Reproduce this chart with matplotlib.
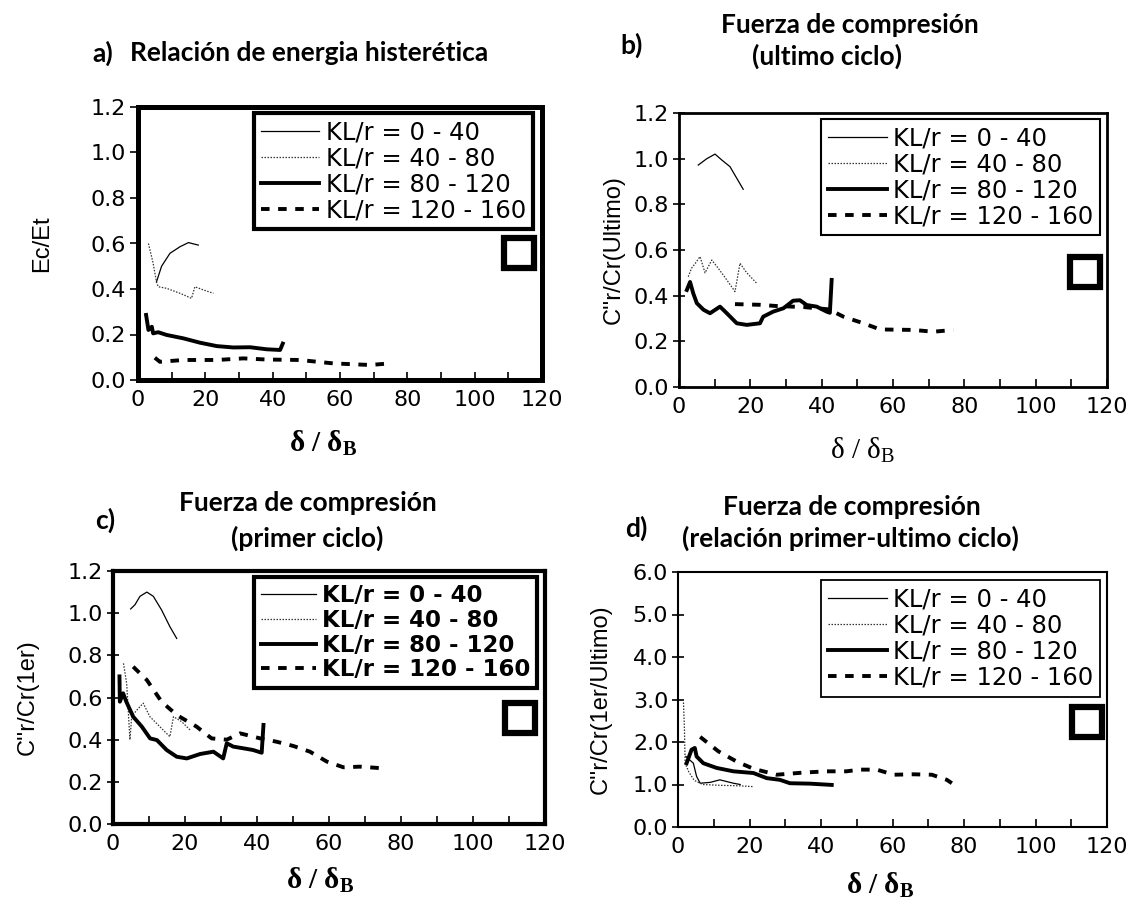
import matplotlib
matplotlib.use("Agg")
import matplotlib.pyplot as plt
from matplotlib.lines import Line2D
from matplotlib.ticker import MultipleLocator, FormatStrFormatter

# ---------------- data ----------------
legend_labels = ["KL/r = 0 - 40", "KL/r = 40 - 80", "KL/r = 80 - 120", "KL/r = 120 - 160"]

# Panel a: Ec/Et
a_s1_x = [5.5, 7.0, 9.5, 12.5, 15.0, 17.9]
a_s1_y = [0.432, 0.50, 0.557, 0.586, 0.604, 0.593]
a_s2_x = [3.1, 4.5, 5.5, 6.0, 8.5, 12.5, 15.9, 16.9, 19.4, 22.4]
a_s2_y = [0.60, 0.513, 0.43, 0.41, 0.403, 0.381, 0.359, 0.41, 0.396, 0.381]
a_s3_x = [2.4, 3.1, 4.1, 4.5, 6.0, 8.5, 13.5, 18.4, 23.4, 28.3, 33.3, 38.2, 42.2, 43.0]
a_s3_y = [0.286, 0.22, 0.234, 0.205, 0.21, 0.198, 0.183, 0.164, 0.149, 0.143, 0.144, 0.135, 0.132, 0.16]
a_s4_x = [5.0, 6.5, 13.5, 23.4, 31.3, 38.2, 48.0, 58.0, 68.9, 74.8]
a_s4_y = [0.098, 0.08, 0.088, 0.088, 0.095, 0.09, 0.088, 0.073, 0.066, 0.073]

# Panel b: C''r/Cr(Ultimo)
b_s1_x = [5.4, 7.8, 10.1, 12.0, 14.3, 16.2, 18.0]
b_s1_y = [0.972, 1.00, 1.02, 0.994, 0.965, 0.914, 0.866]
b_s2_x = [2.6, 3.5, 4.5, 5.9, 7.3, 9.2, 11.0, 13.4, 15.7, 17.1, 19.0, 21.8]
b_s2_y = [0.483, 0.52, 0.54, 0.571, 0.50, 0.556, 0.52, 0.469, 0.418, 0.542, 0.50, 0.454]
b_s3_x = [2.2, 3.1, 4.0, 5.0, 6.9, 8.7, 11.5, 13.4, 16.2, 19.0, 22.7, 23.6, 26.4, 29.3, 32.0, 33.9,
          35.8, 38.6, 41.4, 42.3, 42.8]
b_s3_y = [0.425, 0.46, 0.41, 0.367, 0.338, 0.323, 0.352, 0.323, 0.279, 0.272, 0.279, 0.308, 0.33,
          0.345, 0.378, 0.38, 0.359, 0.352, 0.33, 0.325, 0.469]
b_s4_x = [15.7, 22.7, 27.0, 35.0, 42.0, 46.1, 51.7, 56.4, 65.7, 71.3, 76.9]
b_s4_y = [0.363, 0.36, 0.355, 0.35, 0.34, 0.308, 0.279, 0.252, 0.25, 0.242, 0.25]

# Panel c: C''r/Cr(1er)
c_s1_x = [4.9, 6.1, 7.5, 9.4, 11.2, 13.5, 15.8, 17.7]
c_s1_y = [1.02, 1.04, 1.08, 1.10, 1.08, 1.015, 0.936, 0.88]
c_s2_x = [2.9, 3.8, 4.7, 5.2, 6.6, 8.4, 10.2, 13.1, 15.8, 16.8, 19.1, 21.4]
c_s2_y = [0.762, 0.667, 0.40, 0.51, 0.54, 0.573, 0.51, 0.46, 0.414, 0.509, 0.485, 0.446]
c_s3_x = [1.8, 1.9, 2.8, 3.7, 5.6, 8.0, 10.3, 12.2, 14.9, 17.7, 20.5, 24.2, 27.9, 30.6, 31.6, 33.4,
          36.2, 38.9, 41.3, 41.8]
c_s3_y = [0.70, 0.58, 0.62, 0.58, 0.509, 0.462, 0.406, 0.398, 0.351, 0.319, 0.311, 0.332, 0.343,
          0.311, 0.383, 0.367, 0.359, 0.351, 0.338, 0.47]
c_s4_x = [5.6, 9.4, 13.5, 17.7, 23.2, 27.4, 31.6, 35.3, 40.9, 45.5, 50.1, 54.7, 59.4, 64.0, 68.6, 75.1]
c_s4_y = [0.746, 0.683, 0.58, 0.517, 0.462, 0.406, 0.40, 0.43, 0.406, 0.39, 0.37, 0.343, 0.296,
          0.269, 0.272, 0.264]

# Panel d: C''r/Cr(1er/Ultimo)
d_s1_x = [2.2, 4.3, 5.2, 6.2, 9.0, 11.7, 15.5, 17.4]
d_s1_y = [1.66, 1.50, 1.19, 1.03, 1.05, 1.11, 1.03, 1.00]
d_s2_x = [1.5, 1.8, 2.0, 3.0, 4.5, 6.9, 12.0, 17.0, 21.0]
d_s2_y = [3.0, 2.3, 1.5, 1.3, 1.1, 1.0, 0.98, 0.97, 0.95]
d_s3_x = [2.4, 3.8, 4.7, 5.2, 7.1, 10.8, 15.5, 21.1, 24.8, 28.5, 31.3, 36.9, 43.0]
d_s3_y = [1.5, 1.82, 1.86, 1.66, 1.50, 1.39, 1.31, 1.27, 1.15, 1.11, 1.03, 1.02, 0.99]
d_s4_x = [6.2, 11.3, 16.4, 21.1, 27.6, 35.0, 41.5, 47.1, 50.9, 55.6, 60.3, 65.9, 71.0, 75.2, 76.6]
d_s4_y = [2.12, 1.78, 1.54, 1.37, 1.23, 1.28, 1.31, 1.31, 1.35, 1.35, 1.23, 1.24, 1.23, 1.11, 1.03]

# small square symbol in each panel (x, y in data units)
square_x = [113.2, 113.8, 113.0, 114.4]
square_y = [0.558, 0.504, 0.503, 2.46]

y_labels = ["Ec/Et", "C''r/Cr(Ultimo)", "C''r/Cr(1er)", "C''r/Cr(1er/Ultimo)"]
y_limits = [1.2, 1.2, 1.2, 6.0]
y_steps = [0.2, 0.2, 0.2, 1.0]

# ---------------- style ----------------
W, H = 1133, 900
fig = plt.figure(figsize=(W / 100, H / 100), dpi=100)
plt.rcParams['font.family'] = ['DejaVu Sans']
plt.rcParams['mathtext.fontset'] = 'custom'
plt.rcParams['mathtext.rm'] = 'Liberation Serif:bold'
plt.rcParams['mathtext.bf'] = 'Liberation Serif:bold'
plt.rcParams['mathtext.it'] = 'Liberation Serif'


def px_axes(l, r, t, b):
    return fig.add_axes([l / W, 1 - b / H, (r - l) / W, (b - t) / H])


bounds = [(138, 542, 107, 380), (679, 1107, 113, 387), (113, 545, 571, 824), (678, 1107, 572, 827)]
axes = [px_axes(*bd) for bd in bounds]

spine_w = [3.6, 2.0, 3.0, 1.5]
leg_w = [3.0, 1.5, 3.0, 1.3]
leg_bold = [False, False, True, False]
leg_size = [17.5, 17.5, 16.5, 17.5]
leg_anchor = [(0.978, 0.978), (0.984, 0.978), (0.981, 0.976), (0.984, 0.968)]
ylabel_x = [42, 614, 28, 601]
xlabel_pos = [(323, 443), (862, 450), (320, 880), (880, 885)]
xlabel_text = ['δ / δ$_{\\mathrm{B}}$', 'δ / δ$_{\\mathit{B}}$', 'δ / δ$_{\\mathrm{B}}$', 'δ / δ$_{\\mathrm{B}}$']
xlabel_weight = ['bold', 'normal', 'bold', 'bold']

series = [
    [(a_s1_x, a_s1_y), (a_s2_x, a_s2_y), (a_s3_x, a_s3_y), (a_s4_x, a_s4_y)],
    [(b_s1_x, b_s1_y), (b_s2_x, b_s2_y), (b_s3_x, b_s3_y), (b_s4_x, b_s4_y)],
    [(c_s1_x, c_s1_y), (c_s2_x, c_s2_y), (c_s3_x, c_s3_y), (c_s4_x, c_s4_y)],
    [(d_s1_x, d_s1_y), (d_s2_x, d_s2_y), (d_s3_x, d_s3_y), (d_s4_x, d_s4_y)],
]

line_styles = [
    dict(color='black', lw=0.9, ls='-'),
    dict(color='#333333', lw=0.9, ls=(0, (1.2, 1.2))),
    dict(color='black', lw=2.8, ls='-'),
    dict(color='black', lw=2.8, ls=(0, (2.2, 2.2))),
]

for i, ax in enumerate(axes):
    handles = []
    for (xs, ys), st in zip(series[i], line_styles):
        ax.plot(xs, ys, **st)
        handles.append(Line2D([0], [0], **st))
    ax.plot([square_x[i]], [square_y[i]], marker='s', ms=21, mfc='white', mec='black',
            mew=4.5, ls='none', clip_on=False, zorder=5)

    ax.set_xlim(0, 120)
    ax.set_ylim(0, y_limits[i])
    ax.xaxis.set_major_locator(MultipleLocator(20))
    ax.xaxis.set_minor_locator(MultipleLocator(10))
    ax.yaxis.set_major_locator(MultipleLocator(y_steps[i]))
    ax.yaxis.set_major_formatter(FormatStrFormatter('%.1f'))
    for s in ax.spines.values():
        s.set_linewidth(spine_w[i])
    ydir = 'out' if i == 0 else 'inout'
    ax.tick_params(axis='y', direction=ydir, length=8 if i else 6, width=1.2, labelsize=16,
                   pad=3, colors='black')
    ax.tick_params(axis='x', which='both', direction='in', length=6, width=1.2, labelsize=16,
                   pad=7)

    l, r, t, b = bounds[i]
    ax.set_ylabel(y_labels[i], fontsize=17, va='center', family=['Liberation Sans', 'DejaVu Sans'])
    ax.yaxis.set_label_coords((ylabel_x[i] - l) / (r - l), 0.5)
    ax.set_xlabel(xlabel_text[i], fontsize=21, family=['Liberation Serif', 'DejaVu Serif'],
                  fontweight=xlabel_weight[i], va='center')
    xl, yl = xlabel_pos[i]
    ax.xaxis.set_label_coords((xl - l) / (r - l), (b - yl) / (b - t))

    leg = ax.legend(handles, legend_labels, loc='upper right', bbox_to_anchor=leg_anchor[i],
                    borderaxespad=0, fancybox=False, framealpha=1, edgecolor='black',
                    handlelength=2.4, handletextpad=0.25, labelspacing=0.08, borderpad=0.3,
                    prop=dict(size=leg_size[i], weight='bold' if leg_bold[i] else 'normal'))
    leg.get_frame().set_linewidth(leg_w[i])

# ---------------- titles ----------------
tfont = dict(family=['Lato', 'DejaVu Sans'], fontweight='bold', fontsize=19)


def ftext(x, y, s, ha='center'):
    fig.text(x / W, 1 - y / H, s, ha=ha, va='center', **tfont)


ftext(92, 53, "a)", ha='left')
ftext(130, 53, "Relación de energia histerética", ha='left')
ftext(620, 45, "b)", ha='left')
ftext(850, 25, "Fuerza de compresión")
ftext(827, 56, "(ultimo ciclo)")
ftext(95, 520, "c)", ha='left')
ftext(308, 503, "Fuerza de compresión")
ftext(307, 538, "(primer ciclo)")
ftext(625, 528, "d)", ha='left')
ftext(852, 507, "Fuerza de compresión")
ftext(850, 538, "(relación primer-ultimo ciclo)")

fig.savefig("out.png", dpi=100, facecolor='white')
